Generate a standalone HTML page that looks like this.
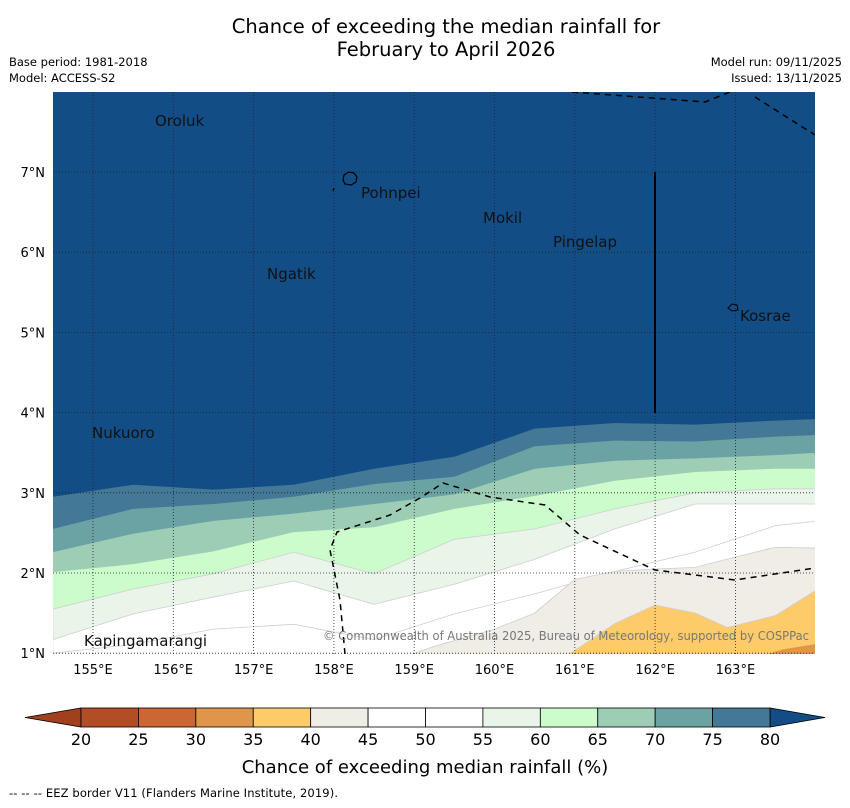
<!DOCTYPE html>
<html><head><meta charset="utf-8"><style>
body{margin:0;background:#fff;font-family:"DejaVu Sans","Liberation Sans",sans-serif;}
svg text{font-family:"DejaVu Sans","Liberation Sans",sans-serif;}
</style></head><body>
<svg id="c" width="850" height="804" xmlns="http://www.w3.org/2000/svg">
<text x="446" y="33" font-size="19.5" text-anchor="middle">Chance of exceeding the median rainfall for</text>
<text x="446" y="56" font-size="19.5" text-anchor="middle">February to April 2026</text>
<text x="9" y="66" font-size="11.5">Base period: 1981-2018</text>
<text x="9" y="82" font-size="11.5">Model: ACCESS-S2</text>
<text x="842" y="66" font-size="11.5" text-anchor="end">Model run: 09/11/2025</text>
<text x="842" y="82" font-size="11.5" text-anchor="end">Issued: 13/11/2025</text>
<defs><clipPath id="mc"><rect x="53" y="92" width="762" height="562"/></clipPath></defs>
<g id="map" clip-path="url(#mc)"></g>
<g id="axes"></g>
<g id="cbar"></g>
<text x="425" y="773" font-size="18" text-anchor="middle">Chance of exceeding median rainfall (%)</text>
<text x="9" y="797" font-size="11.5" textLength="329">--  --  -- EEZ border V11 (Flanders Marine Institute, 2019).</text>
</svg>
<script>
const lons=[154.5,155.5,156.5,157.5,158.5,159.5,160.5,161.5,162.5,163.5,164.03];
const levels=[80,75,70,65,60,55,50];
const bound80=[2.95,3.1,3.04,3.1,3.3,3.45,3.8,3.87,3.85,3.9,3.92];
const bound75=[2.55,2.8,2.86,2.95,3.11,3.2,3.58,3.65,3.64,3.7,3.72];
const bound70=[2.26,2.49,2.65,2.74,2.86,2.98,3.3,3.4,3.43,3.47,3.5];
const bound65=[2.01,2.11,2.27,2.51,2.57,2.8,2.96,3.15,3.26,3.3,3.3];
const bound60=[1.55,1.8,1.99,2.26,1.99,2.42,2.55,2.8,3.0,3.05,3.05];
const bound55=[1.17,1.49,1.7,1.9,1.61,1.86,2.17,2.55,2.86,2.86,2.86];
const bound50=[1.0,1.11,1.3,1.36,1.17,1.49,1.74,2.02,2.26,2.59,2.65];
const bounds=[bound80,bound75,bound70,bound65,bound60,bound55,bound50];
const beigeLon=[158.7,159.3,160.0,160.5,161.0,161.5,162.0,162.5,163.0,163.5,164.03];
const beigeLat=[0.9,1.1,1.3,1.5,1.92,2.02,2.05,2.07,2.2,2.32,2.31];
const orangeLon=[160.8,161.5,162.0,162.5,162.9,163.5,164.03];
const orangeLat=[0.9,1.37,1.6,1.5,1.32,1.47,1.8];
const dorangeLon=[163.1,163.6,164.03];
const dorangeLat=[0.9,1.05,1.12];
const colors={80:'#134d86',75:'#437896',70:'#6ba3a4',65:'#9dcdb5',60:'#ccfccc',55:'#eaf5e9',50:'#ffffff',45:'#ffffff',40:'#f0ece6',35:'#fdcb6a',30:'#e0964a'};
const X=lon=>93+(lon-155)*80.3, Y=lat=>172+(7-lat)*80.2;
const NS='http://www.w3.org/2000/svg';
function mk(t,a,p){const e=document.createElementNS(NS,t);for(const k in a)e.setAttribute(k,a[k]);p.appendChild(e);return e;}
const map=document.getElementById('map');
const bg=mk('rect',{x:53,y:92,width:762,height:562,fill:colors[80]},map);


function band(ls,ts,fill,name,stroke){
 let d='M'+X(ls[0])+','+Y(ts[0]);
 for(let i=1;i<ls.length;i++)d+=' L'+X(ls[i])+','+Y(ts[i]);
 d+=' L'+X(ls[ls.length-1])+',660 L'+X(ls[0])+',660 Z';
 const p=mk('path',{d:d,fill:fill,stroke:stroke||'none','stroke-width':0.8},map);
 
 
}
levels.forEach((L,i)=>band(lons,bounds[i],colors[L-5],'contour-band-'+(L-5),L<=60?'#cfcfcf':'none'));
band(beigeLon,beigeLat,colors[40],'contour-band-40','#cfcfcf');
band(orangeLon,orangeLat,colors[35],'contour-band-35','#cfcfcf');
band(dorangeLon,dorangeLat,colors[30],'contour-band-30','none');
for(let lon=155;lon<=163;lon++){const l=mk('line',{x1:X(lon),x2:X(lon),y1:92,y2:654,stroke:'#222','stroke-width':0.8,'stroke-dasharray':'1,2'},map);

}
for(let lat=1;lat<=7;lat++){const l=mk('line',{x1:53,x2:815,y1:Y(lat),y2:Y(lat),stroke:'#222','stroke-width':0.8,'stroke-dasharray':'1,2'},map);

}
const eez=[[[572,92],[705,102],[735,90]],[[755,97],[815,135]],[[345,654],[340,600],[330,550],[337,532],[390,515],[420,498],[443,483],[490,497],[545,505],[580,535],[655,570],[735,580],[815,568]]];
eez.forEach((pts,i)=>{const p=mk('polyline',{points:pts.map(p=>p.join(',')).join(' '),fill:'none',stroke:'#000','stroke-width':1.5,'stroke-dasharray':'6,5'},map);

});
const bl=mk('line',{x1:655,x2:655,y1:172,y2:413,stroke:'#000','stroke-width':2},map);


const pi=mk('path',{d:'M344,175 l5,-3 l5,1 l3,4 l-1,5 l-5,3 l-6,-1 l-2,-4z M334,188 l-1,3',fill:'none',stroke:'#000','stroke-width':1.2},map);


const ki=mk('path',{d:'M728,308 l4,-4 l5,1 l1,5 l-6,1z',fill:'none',stroke:'#000','stroke-width':1},map);


const places=[['Oroluk',155,126],['Pohnpei',361,198],['Mokil',483,223],['Pingelap',553,247],['Ngatik',267,279],['Kosrae',740,321],['Nukuoro',92,438],['Kapingamarangi',84,646]];
places.forEach(([n,x,y])=>{const t=mk('text',{x:x,y:y,'font-size':15,fill:'#111'},map);t.textContent=n;

});
const cp=mk('text',{x:323,y:640,'font-size':12,fill:'#777',textLength:486,lengthAdjust:'spacingAndGlyphs'},map);cp.textContent='© Commonwealth of Australia 2025, Bureau of Meteorology, supported by COSPPac';


const ax=document.getElementById('axes');
for(let lon=155;lon<=163;lon++){const t=mk('text',{x:X(lon),y:674,'font-size':13,'text-anchor':'middle'},ax);t.textContent=lon+'°E';

}
for(let lat=1;lat<=7;lat++){const t=mk('text',{x:45,y:Y(lat)+5,'font-size':13,'text-anchor':'end'},ax);t.textContent=lat+'°N';

}
const cbTicks=[20,25,30,35,40,45,50,55,60,65,70,75,80];
const cb=document.getElementById('cbar');
const CX=v=>81+(v-20)*(689/60);
const lt=mk('polygon',{points:'25,717.5 81,708 81,727',fill:'#a0401d',stroke:'#000','stroke-width':0.8},cb);


const rt=mk('polygon',{points:'825,717.5 770,708 770,727',fill:colors[80],stroke:'#000','stroke-width':0.8},cb);


const segCol=['#b34d26','#cc6633','#e0964a','#fdcb6a','#f0ece6','#ffffff','#ffffff','#eaf5e9','#ccfccc','#9dcdb5','#6ba3a4','#437896'];
for(let i=0;i<12;i++){const r=mk('rect',{x:CX(cbTicks[i]),y:708,width:CX(cbTicks[i+1])-CX(cbTicks[i]),height:19,fill:segCol[i],stroke:'#000','stroke-width':0.8},cb);

}
cbTicks.forEach(v=>{const t=mk('text',{x:CX(v),y:745,'font-size':16,'text-anchor':'middle'},cb);t.textContent=v;

});
</script>
</body></html>
